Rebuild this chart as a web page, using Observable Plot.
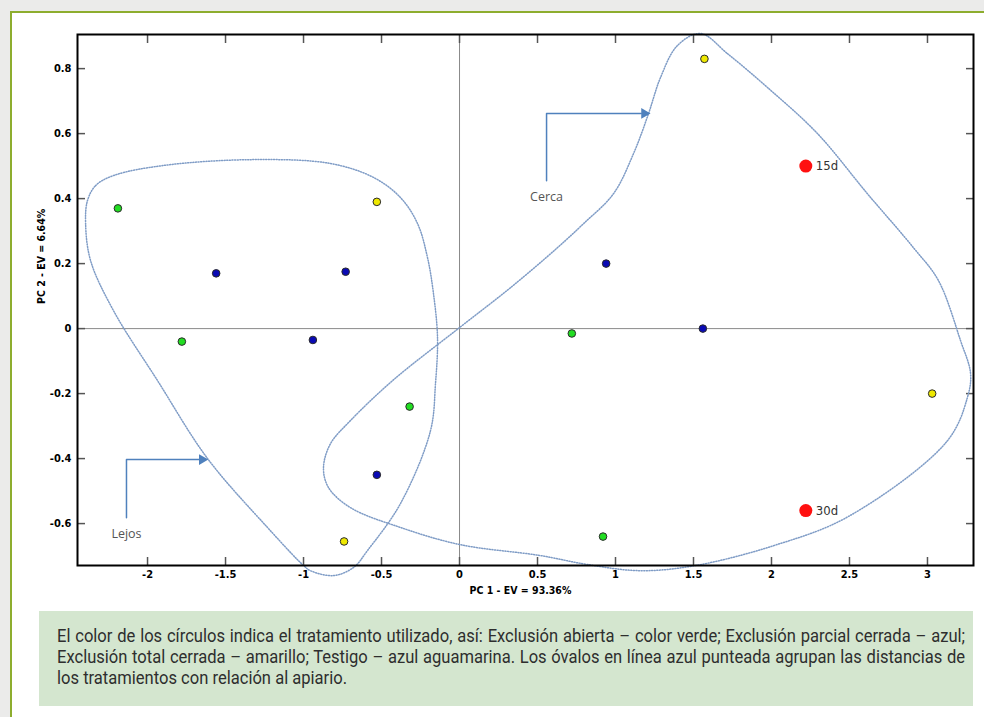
<!DOCTYPE html>
<html lang="es">
<head>
<meta charset="utf-8">
<script src="https://cdn.jsdelivr.net/npm/d3@7"></script>
<script src="https://cdn.jsdelivr.net/npm/@observablehq/plot@0.6"></script>
<style>
  html, body { margin: 0; padding: 0; }
  body { width: 984px; height: 717px; background: #ebebea; position: relative; overflow: hidden; }
  #panel { position: absolute; left: 10px; top: 11px; right: -10px; bottom: -10px; background: #fff;
           border-top: 2px solid #8dad2e; border-left: 2px solid #8dad2e; }
  #chart { position: absolute; left: 0; top: 0; }
  #caption { position: absolute; left: 39px; top: 611px; width: 908px; height: 81px; padding: 14px 8px 0 18px;
             background: #d4e6cf; color: #2e2e2e; overflow: hidden;
             font-family: Roboto, "DejaVu Sans Condensed", sans-serif;
             font-size: 18px; line-height: 21px; }
  /* condensed face: Roboto squeezed horizontally */
  #caption .l { white-space: nowrap; width: 987px; transform: scaleX(0.92); transform-origin: 0 0; }
  #caption .j { text-align: justify; text-align-last: justify; }
</style>
</head>
<body>
<div id="panel"></div>
<div id="chart"></div>
<div id="caption">
  <div class="l j">El color de los círculos indica el tratamiento utilizado, así: Exclusión abierta – color verde; Exclusión parcial cerrada – azul;</div>
  <div class="l j">Exclusión total cerrada – amarillo; Testigo – azul aguamarina. Los óvalos en línea azul punteada agrupan las distancias de</div>
  <div class="l">los tratamientos con relación al apiario.</div>
</div>
<script>
// Scores on the first two principal components, one entry per sample
const pointX = [-2.19, -1.78, -0.32, 0.72, 0.92,
                -1.56, -0.73, -0.94, -0.53, 0.94, 1.56,
                -0.53, -0.74, 1.57, 3.03];
const pointY = [0.37, -0.04, -0.24, -0.015, -0.64,
                0.17, 0.175, -0.035, -0.45, 0.2, 0.0,
                0.39, -0.655, 0.83, -0.2];
const pointTreatment = ["abierta", "abierta", "abierta", "abierta", "abierta",
                        "parcial", "parcial", "parcial", "parcial", "parcial", "parcial",
                        "total", "total", "total", "total"];

// Reference samples by sampling day
const refLabels = ["15d", "30d"];
const refX = [2.22, 2.22];
const refY = [0.5, -0.56];

// Treatment colours
const treatments = ["abierta", "parcial", "total"];
const treatmentColors = ["#22dd22", "#0a0ab4", "#eee800"];

// Group outlines (closed smooth curves)
const lejosX = [-2.385, -2.333, -2.218, -1.897, -1.321, -0.827, -0.551, -0.378, -0.269, -0.205, -0.167, -0.141,
                -0.154, -0.186, -0.378, -0.59, -0.679, -0.808, -0.955, -1.0, -1.231, -1.615, -1.936, -2.218, -2.365, -2.397];
const lejosY = [0.394, 0.44, 0.471, 0.502, 0.52, 0.508, 0.465, 0.403, 0.323, 0.218, 0.108, -0.028,
                -0.169, -0.314, -0.538, -0.683, -0.735, -0.76, -0.745, -0.729, -0.612, -0.4, -0.16, 0.055, 0.209, 0.323];
const cercaX = [1.545, 1.718, 1.974, 2.295, 2.615, 2.91, 3.07, 3.212, 3.276, 3.256, 3.128, 2.494, 2.013, 1.513, 1.16, 0.82,
                0.513, 0.006, -0.378, -0.699, -0.84, -0.872, -0.827, -0.699, -0.429, 0.0, 0.327, 0.628, 0.795, 0.987, 1.115, 1.212, 1.288, 1.397];
const cercaY = [0.908, 0.846, 0.742, 0.6, 0.415, 0.249, 0.148, -0.037, -0.138, -0.212, -0.345, -0.578, -0.668, -0.729, -0.745, -0.726,
                -0.698, -0.665, -0.612, -0.551, -0.489, -0.428, -0.354, -0.283, -0.16, 0.003, 0.126, 0.249, 0.323, 0.415, 0.538, 0.662, 0.772, 0.871];

// Elbow callouts naming each group
const groupNames = ["Cerca", "Lejos"];
const groupNameX = [0.558, -2.135];
const groupNameY = [0.406, -0.631];
const cercaArrowX = [0.558, 0.558, 1.165];
const cercaArrowY = [0.455, 0.662, 0.662];
const lejosArrowX = [-2.135, -2.135, -1.67];
const lejosArrowY = [-0.582, -0.403, -0.403];
const headX = [1.185, -1.65];
const headY = [0.662, -0.403];

// Axes
const xTicks = [-2, -1.5, -1, -0.5, 0, 0.5, 1, 1.5, 2, 2.5, 3];
const yTicks = [-0.6, -0.4, -0.2, 0, 0.2, 0.4, 0.6, 0.8];
const xTitle = "PC 1 - EV = 93.36%";
const yTitle = "PC 2 - EV = 6.64%";
const xDomain = [-2.449, 3.295];
const yDomain = [-0.729, 0.905];

const points = pointX.map((x, i) => ({x, y: pointY[i], t: pointTreatment[i]}));
const refs = refLabels.map((label, i) => ({x: refX[i], y: refY[i], label}));
const lejos = lejosX.map((x, i) => ({x, y: lejosY[i]}));
const cerca = cercaX.map((x, i) => ({x, y: cercaY[i]}));
const names = groupNames.map((name, i) => ({x: groupNameX[i], y: groupNameY[i], name}));
const cercaArrow = cercaArrowX.map((x, i) => ({x, y: cercaArrowY[i]}));
const lejosArrow = lejosArrowX.map((x, i) => ({x, y: lejosArrowY[i]}));
const heads = headX.map((x, i) => ({x, y: headY[i]}));

const tickFont = {fontFamily: "'Liberation Sans Narrow', 'Arial Narrow', 'DejaVu Sans Condensed', sans-serif", fontWeight: "bold", fontSize: 11, fill: "#000"};
const noText = () => "";
const outline = {x: "x", y: "y", curve: "catmull-rom-closed", stroke: "#7f9cc6", strokeWidth: 1.5, strokeDasharray: "1 1.6"};
const arrowColor = "#4f81bd";

const chart = Plot.plot({
  width: 984,
  height: 610,
  marginLeft: 77,
  marginRight: 11,
  marginTop: 34,
  marginBottom: 45,
  style: {background: "transparent", overflow: "visible"},
  x: {domain: xDomain},
  y: {domain: yDomain},
  color: {domain: treatments, range: treatmentColors},
  marks: [
    Plot.ruleX([0], {stroke: "#8a8a8a", strokeWidth: 1}),
    Plot.ruleY([0], {stroke: "#8a8a8a", strokeWidth: 1}),
    // inward ticks on all four sides
    Plot.axisX(xTicks, {anchor: "bottom", tickSize: 8, dy: -8, tickFormat: noText, stroke: "#555", strokeWidth: 1.5, label: null}),
    Plot.axisX(xTicks, {anchor: "top", tickSize: 8, dy: 8, tickFormat: noText, stroke: "#555", strokeWidth: 1.5, label: null}),
    Plot.axisY(yTicks, {anchor: "left", tickSize: 8, dx: 8, tickFormat: noText, stroke: "#555", strokeWidth: 1.5, label: null}),
    Plot.axisY(yTicks, {anchor: "right", tickSize: 8, dx: -8, tickFormat: noText, stroke: "#555", strokeWidth: 1.5, label: null}),
    // tick labels
    Plot.axisX(xTicks, {anchor: "bottom", tickSize: 0, tickPadding: 5, tickFormat: d => String(d), label: null, ...tickFont}),
    Plot.axisY(yTicks, {anchor: "left", tickSize: 0, tickPadding: 6, tickFormat: d => String(d), label: null, ...tickFont}),
    Plot.text([xTitle], {frameAnchor: "bottom", dx: -5, dy: 28, text: d => d, ...tickFont, fontSize: 10.5}),
    Plot.text([yTitle], {frameAnchor: "left", dx: -36, dy: 4, rotate: -90, text: d => d, ...tickFont, fontSize: 10.5}),
    // group outlines
    Plot.line(lejos, outline),
    Plot.line(cerca, outline),
    // callouts
    Plot.line(cercaArrow, {x: "x", y: "y", stroke: arrowColor, strokeWidth: 1.5}),
    Plot.line(lejosArrow, {x: "x", y: "y", stroke: arrowColor, strokeWidth: 1.5}),
    Plot.dot(heads, {x: "x", y: "y", symbol: "triangle", rotate: 90, r: 4, fill: arrowColor, stroke: null}),
    Plot.text(names, {x: "x", y: "y", text: "name", fill: "#555", fontSize: 12.5, fontFamily: "'Open Sans', sans-serif"}),
    // samples
    Plot.dot(points, {x: "x", y: "y", fill: "t", r: 3.8, stroke: "#2a2a2a", strokeWidth: 1}),
    Plot.dot(refs, {x: "x", y: "y", r: 6.5, fill: "#ff1010", stroke: null}),
    Plot.text(refs, {x: "x", y: "y", text: "label", dx: 10, textAnchor: "start", fill: "#333", fontSize: 13,
                     fontFamily: "'Liberation Sans Narrow', 'Arial Narrow', 'DejaVu Sans Condensed', sans-serif"}),
    Plot.frame({stroke: "#000", strokeWidth: 2})
  ]
});
document.getElementById("chart").appendChild(chart);
</script>
</body>
</html>
